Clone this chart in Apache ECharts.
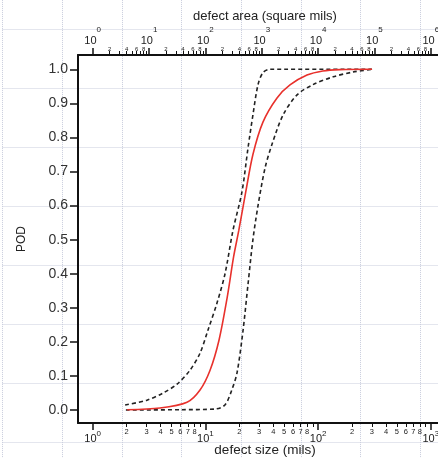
<!DOCTYPE html>
<html>
<head>
<meta charset="utf-8">
<script src="https://cdn.jsdelivr.net/npm/echarts@6/dist/echarts.min.js"></script>
<style>
html,body{margin:0;padding:0;background:#fff;}
#chart{width:438px;height:458px;}
</style>
</head>
<body>
<div id="chart"></div>
<script>
// ---- data (defect size in mils, POD) ----
var redSize   = [2.02, 3.95, 6.87, 8.96, 11.0, 13.2, 15.6, 17.8, 19.8, 22.8, 26.4, 32.4, 43.2, 56.3, 79.7, 110, 156, 301];
var redPod    = [0.001, 0.006, 0.023, 0.059, 0.117, 0.205, 0.33, 0.45, 0.528, 0.64, 0.75, 0.845, 0.916, 0.954, 0.983, 0.995, 0.999, 1.0];
var upperSize = [1.94, 3.03, 4.21, 5.60, 7.30, 8.96, 10.55, 12.67, 14.93, 17.58, 21.1, 23.9, 26.4, 29.3, 32.4, 37.4, 301];
var upperPod  = [0.015, 0.029, 0.05, 0.076, 0.117, 0.167, 0.235, 0.314, 0.40, 0.528, 0.64, 0.77, 0.866, 0.955, 0.99, 1.0, 1.0];
var lowerSize = [1.97, 5.97, 12.2, 14.9, 17.2, 19.1, 21.6, 23.9, 26.4, 29.3, 33.8, 39.0, 48.9, 65.0, 90.1, 136, 204, 301];
var lowerPod  = [0.0, 0.001, 0.003, 0.015, 0.06, 0.11, 0.235, 0.37, 0.50, 0.60, 0.71, 0.78, 0.866, 0.925, 0.955, 0.978, 0.992, 1.0];

var sizeDecades = [0, 1, 2, 3];            // 10^0 .. 10^3 mils
var areaDecades = [0, 1, 2, 3, 4, 5, 6];   // 10^0 .. 10^6 square mils
var minorMult   = [2, 3, 4, 5, 6, 7, 8, 9];
var sizeMinorLabels = [2, 3, 4, 5, 6, 7, 8];
var areaMinorLabels = [2, 4, 6, 8];
var podTicks = [0, 0.1, 0.2, 0.3, 0.4, 0.5, 0.6, 0.7, 0.8, 0.9, 1.0];

// ---- helpers ----
function lg(v){ return Math.log10(v); }
function pairs(xs, ys){ return xs.map(function(x,i){ return [lg(x), ys[i]]; }); }
function minorVals(decs, mults){
  var out = [];
  decs.forEach(function(d){ mults.forEach(function(m){ out.push(d + lg(m)); }); });
  return out;
}
function minorFmt(v){ var d = Math.floor(v + 1e-9); return String(Math.round(Math.pow(10, v - d))); }
function majorFmt(v){ return '{b|10}{e|' + Math.round(v) + '}'; }

var xMinLog = -0.1304, xMaxLog = 3.188;
var FONT = 'Liberation Sans, Arial, sans-serif';
var black = '#111';

var chart = echarts.init(document.getElementById('chart'), null, {renderer:'canvas'});
chart.setOption({
  animation: false,
  backgroundColor: '#fff',
  grid: [
    {left: 78, top: 55, width: 374, height: 368, containLabel: false, outerBoundsMode: 'none'},
    {left: 2.5, top: -30.1, width: 477.6, height: 531.9, containLabel: false, outerBoundsMode: 'none'}
  ],
  xAxis: [
    { // bottom, major
      type: 'value', gridIndex: 0, position: 'bottom', min: xMinLog, max: xMaxLog,
      name: 'defect size (mils)', nameLocation: 'middle', nameGap: 20, nameMoveOverlap: false,
      nameTextStyle: {fontFamily: FONT, fontSize: 13.5, color: '#222'},
      axisLine: {show: true, onZero: false, lineStyle: {color: black, width: 2}},
      axisTick: {show: true, length: 7, lineStyle: {color: black, width: 1.5}, customValues: sizeDecades},
      axisLabel: {show: true, margin: 7, customValues: sizeDecades, formatter: majorFmt,
        rich: {b: {fontFamily: FONT, fontSize: 11, color: '#222', lineHeight: 14, verticalAlign: 'bottom'},
               e: {fontFamily: FONT, fontSize: 8, color: '#222', verticalAlign: 'top'}}},
      splitLine: {show: false}
    },
    { // bottom, minor
      type: 'value', gridIndex: 0, position: 'bottom', min: xMinLog, max: xMaxLog,
      axisLine: {show: false, onZero: false},
      axisTick: {show: true, length: 4, lineStyle: {color: black, width: 1}, customValues: minorVals(sizeDecades.slice(0,3), minorMult)},
      axisLabel: {show: true, margin: 5, customValues: minorVals(sizeDecades.slice(0,3), sizeMinorLabels), formatter: minorFmt,
        fontFamily: FONT, fontSize: 7.5, color: '#222'},
      splitLine: {show: false}
    },
    { // top, major (area)
      type: 'value', gridIndex: 0, position: 'top', min: 2 * xMinLog, max: 2 * xMaxLog,
      name: 'defect area (square mils)', nameLocation: 'middle', nameGap: 32, nameMoveOverlap: false,
      nameTextStyle: {fontFamily: FONT, fontSize: 13, color: '#222'},
      axisLine: {show: true, onZero: false, lineStyle: {color: black, width: 2}},
      axisTick: {show: true, length: 7, lineStyle: {color: black, width: 1.5}, customValues: areaDecades},
      axisLabel: {show: true, margin: 9, customValues: areaDecades, formatter: majorFmt,
        rich: {b: {fontFamily: FONT, fontSize: 11, color: '#222', lineHeight: 20, verticalAlign: 'bottom'},
               e: {fontFamily: FONT, fontSize: 8, color: '#222', verticalAlign: 'top'}}},
      splitLine: {show: false}
    },
    { // top, minor (area)
      type: 'value', gridIndex: 0, position: 'top', min: 2 * xMinLog, max: 2 * xMaxLog,
      axisLine: {show: false, onZero: false},
      axisTick: {show: true, length: 4, lineStyle: {color: black, width: 1}, customValues: minorVals(areaDecades.slice(0,6), minorMult)},
      axisLabel: {show: true, margin: 3, customValues: minorVals(areaDecades.slice(0,6), areaMinorLabels), formatter: minorFmt,
        fontFamily: FONT, fontSize: 6, color: '#222'},
      splitLine: {show: false}
    },
    { // background paper grid
      type: 'value', gridIndex: 1, min: 0, max: 8, interval: 1, z: 0,
      axisLine: {show: false}, axisTick: {show: false}, axisLabel: {show: false},
      splitLine: {show: true, lineStyle: {color: '#c8ccdc', type: 'dotted', width: 1}}
    }
  ],
  yAxis: [
    {
      type: 'value', gridIndex: 0, min: -0.038, max: 1.042,
      name: 'POD', nameLocation: 'middle', nameGap: 50, nameMoveOverlap: false,
      nameTextStyle: {fontFamily: FONT, fontSize: 12, color: '#222'},
      axisLine: {show: true, onZero: false, lineStyle: {color: black, width: 2}},
      axisTick: {show: true, length: 8, lineStyle: {color: black, width: 1.5}, customValues: podTicks},
      axisLabel: {show: true, margin: 10, customValues: podTicks, formatter: function(v){ return v.toFixed(1); },
        fontFamily: FONT, fontSize: 14, color: '#333'},
      splitLine: {show: false}
    },
    {
      type: 'value', gridIndex: 1, min: 0, max: 9, interval: 1, z: 0,
      axisLine: {show: false}, axisTick: {show: false}, axisLabel: {show: false},
      splitLine: {show: true, lineStyle: {color: '#c8ccdc', type: 'dotted', width: 1}}
    }
  ],
  series: [
    {type: 'line', name: 'upper', xAxisIndex: 0, yAxisIndex: 0, data: pairs(upperSize, upperPod),
     showSymbol: false, smooth: 0.3, lineStyle: {color: '#222', width: 1.6, type: [4, 3]}, z: 3},
    {type: 'line', name: 'lower', xAxisIndex: 0, yAxisIndex: 0, data: pairs(lowerSize, lowerPod),
     showSymbol: false, smooth: 0.3, lineStyle: {color: '#222', width: 1.6, type: [4, 3]}, z: 3},
    {type: 'line', name: 'POD', xAxisIndex: 0, yAxisIndex: 0, data: pairs(redSize, redPod),
     showSymbol: false, smooth: 0.3, lineStyle: {color: '#e8312c', width: 1.6}, z: 4}
  ]
});
</script>
</body>
</html>
